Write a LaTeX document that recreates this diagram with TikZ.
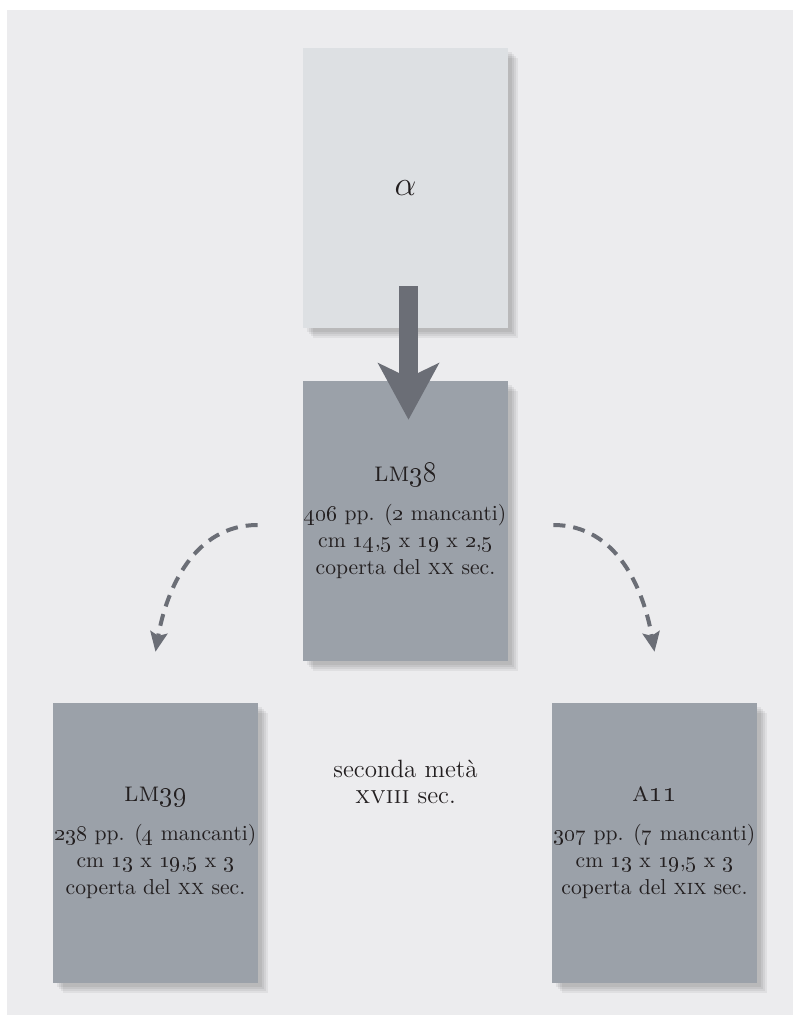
\documentclass[tikz,border=0pt]{standalone}
\usetikzlibrary{arrows.meta, positioning}

\definecolor{paper}{RGB}{236,236,238}
\definecolor{lostgrey}{RGB}{221,224,227}
\definecolor{bookgrey}{RGB}{155,161,169}
\definecolor{arrowgrey}{RGB}{107,110,118}
\definecolor{ink}{RGB}{35,31,32}

\newcommand{\osn}[1]{\oldstylenums{#1}}

\tikzset{
  book/.style={rectangle, fill=bookgrey, minimum width=102.5pt, minimum height=140pt,
    inner sep=0pt, align=center, text=ink, font=\fontsize{10.8}{13.5}\selectfont,
    preaction={fill=black, opacity=0.06, transform canvas={shift={(2pt,-2pt)}}},
    preaction={fill=black, opacity=0.06, transform canvas={shift={(3pt,-3pt)}}},
    preaction={fill=black, opacity=0.06, transform canvas={shift={(4pt,-4pt)}}},
    preaction={fill=black, opacity=0.05, transform canvas={shift={(5pt,-5pt)}}}},
  lostbook/.style={book, fill=lostgrey, font=\fontsize{17}{19}\selectfont},
  descent/.style={draw=arrowgrey, line width=9.5pt,
    -{Stealth[length=28.5pt, width=31pt, inset=7.5pt, line width=0pt]}},
  copyarrow/.style={draw=arrowgrey, line width=2pt, dash pattern=on 6pt off 4pt,
    -{Stealth[length=10pt, width=9pt, inset=2pt, line width=0pt]}},
}

\begin{document}
\begin{tikzpicture}[x=0.5pt, y=-0.5pt]
\useasboundingbox (0,0) rectangle (793,1015);
\fill[paper] (7,10) rectangle (793,1015);

\coordinate (Calpha) at (405.5,188);
\coordinate (Clm38) at (405.5,521);
\coordinate (Clm39) at (155.5,843);
\coordinate (Ca11) at (654.5,843);
\coordinate (Cdate) at (405.5,782);

% the lost exemplar
\node[lostbook] (alpha) at (Calpha) {$\alpha$};

% the surviving copies
\node[book] (lm38) at (Clm38) {{\fontsize{14}{15}\selectfont\textsc{lm}\osn{38}}\\[6pt]
  \osn{406} pp. (\osn{2} mancanti)\\
  cm \osn{14},\osn{5} x \osn{19} x \osn{2},\osn{5}\\
  coperta del \textsc{xx} sec.};
\node[book] (lm39) at (Clm39) {{\fontsize{14}{15}\selectfont\textsc{lm}\osn{39}}\\[6pt]
  \osn{238} pp. (\osn{4} mancanti)\\
  cm \osn{13} x \osn{19},\osn{5} x \osn{3}\\
  coperta del \textsc{xx} sec.};
\node[book] (a11) at (Ca11) {{\fontsize{14}{15}\selectfont\textsc{a}\osn{11}}\\[6pt]
  \osn{307} pp. (\osn{7} mancanti)\\
  cm \osn{13} x \osn{19},\osn{5} x \osn{3}\\
  coperta del \textsc{xix} sec.};

\node[align=center, text=ink, font=\fontsize{12.5}{13}\selectfont] (date) at (Cdate)
  {seconda metà\\ \textsc{xviii} sec.};

\draw[descent] ([xshift=1.5pt, yshift=21pt]alpha.south) -- ([xshift=1.5pt, yshift=-19.5pt]lm38.north);

\draw[copyarrow] ([xshift=-22.5pt, yshift=-2pt]lm38.west) to[out=180, in=80] ([yshift=25.5pt]lm39.north);
\draw[copyarrow] ([xshift=22.5pt, yshift=-2pt]lm38.east) to[out=0, in=100] ([yshift=25.5pt]a11.north);
\end{tikzpicture}
\end{document}
